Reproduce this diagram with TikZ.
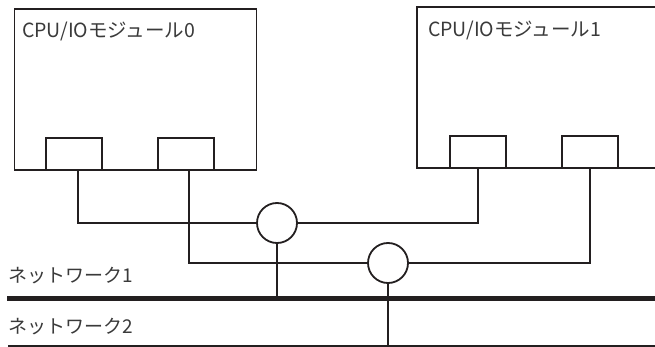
\documentclass[tikz,border=0pt]{standalone}
\usepackage{fontspec}
\newfontfamily\jp{Noto Sans CJK JP}
\begin{document}
\begin{tikzpicture}[x=1pt,y=-1pt,
  line/.style={draw=linec,line width=1.8pt},
  module/.style={draw=linec,line width=1.8pt,rectangle,minimum width=242pt,minimum height=161pt,inner sep=0pt},
  port/.style={draw=linec,line width=1.8pt,rectangle,fill=white,minimum width=56pt,minimum height=32pt,inner sep=0pt},
  hub/.style={draw=linec,line width=1.8pt,circle,fill=white,minimum size=40pt,inner sep=0pt},
  lbl/.style={anchor=base west,inner sep=0pt,text=textc,font=\jp\fontsize{19}{22}\selectfont}]
\definecolor{linec}{HTML}{231F20}
\definecolor{textc}{HTML}{3A3A3A}
\path[use as bounding box,clip] (0,0) rectangle (655,347);
% modules
\node[module] (m0) at (135.5,89.5) {};
\node[module,minimum width=250pt] (m1) at (542,87.5) {};
\node[lbl,font=\jp\fontsize{19.5}{22}\selectfont] (t0) at (22,38) {CPU/IOモジュール0};
\node[lbl,font=\jp\fontsize{19.5}{22}\selectfont] (t1) at (428,37) {CPU/IOモジュール1};
% ports
\node[port] (p0a) at (74,154) {};
\node[port] (p0b) at (186,154) {};
\node[port] (p1a) at (478,152) {};
\node[port] (p1b) at (590,152) {};
% network lines
\coordinate (n1w) at (7,298);
\coordinate (n1e) at (660,298);
\coordinate (n2w) at (8,346);
\coordinate (n2e) at (660,346);
\draw[draw=linec,line width=5pt] (n1w) -- (n1e);
\draw[line,line width=1.5pt] (n2w) -- (n2e);
% hubs
\node[hub] (h1) at (277,223) {};
\node[hub] (h2) at (388,263) {};
% connectors
\draw[line] (p0a.south) ++(4,0) |- (h1.west);
\draw[line] (h1.east) -| (p1a.south);
\draw[line] (p0b.south) ++(3,0) |- (h2.west);
\draw[line] (h2.east) -| (p1b.south);
\draw[line] (h1.south) -- (h1.south |- n1w);
\draw[line] (h2.south) -- (h2.south |- n2w);
% network labels
\node[lbl] (l1) at (8,282) {ネットワーク1};
\node[lbl] (l2) at (8,333) {ネットワーク2};
\end{tikzpicture}
\end{document}
